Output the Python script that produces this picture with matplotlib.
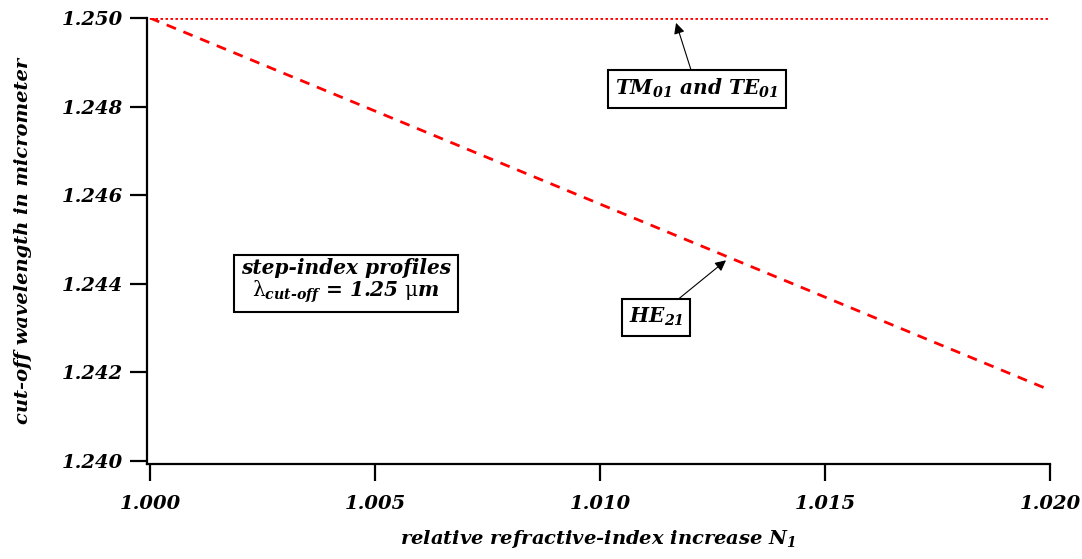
import matplotlib
matplotlib.use("Agg")
import matplotlib.pyplot as plt

# data
x_vals = [1.000, 1.005, 1.010, 1.015, 1.020]
he21 = [1.2500, 1.2479, 1.2458, 1.2437, 1.2416]
tm_te = [1.2500, 1.2500, 1.2500, 1.2500, 1.2500]
x_ticks = [1.000, 1.005, 1.010, 1.015, 1.020]
y_ticks = [1.240, 1.242, 1.244, 1.246, 1.248, 1.250]

plt.rcParams['font.family'] = 'DejaVu Serif'
plt.rcParams['font.style'] = 'italic'
plt.rcParams['font.weight'] = 'bold'
plt.rcParams['axes.labelweight'] = 'bold'
plt.rcParams['mathtext.fontset'] = 'custom'
plt.rcParams['mathtext.rm'] = 'DejaVu Serif:style=italic:weight=bold'
plt.rcParams['mathtext.it'] = 'DejaVu Serif:style=italic:weight=bold'
plt.rcParams['mathtext.bf'] = 'DejaVu Serif:style=italic:weight=bold'
plt.rcParams['mathtext.sf'] = 'DejaVu Serif:style=normal:weight=normal'

W, H = 1082, 559
fig = plt.figure(figsize=(W / 100, H / 100), dpi=100)
ax = fig.add_axes([147 / W, (H - 464) / H, (1050 - 147) / W, (464 - 18) / H])

ax.plot(x_vals, he21, color='red', ls=(0, (3.6, 2.9)), lw=2.0)
ax.plot(x_vals, tm_te, color='red', ls=(0, (0.9, 0.9)), lw=2.0)

ax.set_xlim(1.000 - 0.0000667, 1.020)
ax.set_ylim(1.240 - 0.0000677, 1.250)
ax.set_xticks(x_ticks)
ax.set_yticks(y_ticks)
tfont = dict(fontsize=14, fontstyle='italic', fontweight='bold', family='DejaVu Serif')
ax.set_xticklabels([f"{v:.3f}" for v in x_ticks], **tfont)
ax.set_yticklabels([f"{v:.3f}" for v in y_ticks], **tfont)
for s in ['top', 'right']:
    ax.spines[s].set_visible(False)
for s in ['left', 'bottom']:
    ax.spines[s].set_linewidth(1.6)
ax.tick_params(axis='both', direction='out', length=12, width=1.6, pad=10)
ax.tick_params(axis='y', pad=5)

lfont = dict(fontsize=14, fontstyle='italic', fontweight='bold', family='DejaVu Serif')
ax.set_xlabel(r'relative refractive-index increase N$_1$', labelpad=11, **lfont)
ax.set_ylabel('cut-off wavelength in micrometer', labelpad=22, **lfont)

bbox = dict(boxstyle='square,pad=0.35', fc='white', ec='black', lw=1.5)
arrow = dict(arrowstyle='-|>', color='black', lw=0.8, mutation_scale=16, shrinkA=0, shrinkB=0)

ax.annotate(r'TM$_{01}$ and TE$_{01}$', xy=(1.01169, 1.24989), xytext=(1.012156, 1.248401),
            ha='center', va='center', fontsize=14.5, bbox=bbox, arrowprops=arrow)
ax.annotate(r'HE$_{21}$', xy=(1.0128, 1.24453), xytext=(1.011244, 1.243243),
            ha='center', va='center', fontsize=14.5, bbox=bbox, arrowprops=arrow)
lam_line = '$\\mathsf{\\lambda}_{cut\u2010off}$' + ' = 1.25 ' + '$\\mathsf{\\mu}$m'
ax.text(1.004356, 1.244054, 'step-index profiles\n' + lam_line,
        ha='center', va='center', fontsize=14.5, bbox=bbox, multialignment='center', linespacing=1.0)

fig.savefig('out.png', dpi=100)
